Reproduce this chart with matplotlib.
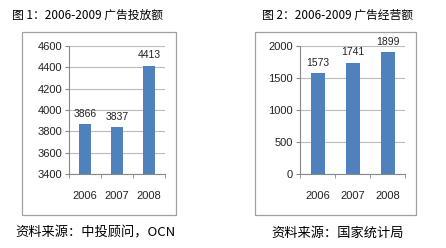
import numpy as np
import matplotlib.pyplot as plt
from matplotlib.patches import Rectangle

plt.rcParams['font.family'] = ['Liberation Sans', 'Noto Sans CJK SC', 'DejaVu Sans']

W, H = 446, 248

years = ['2006', '2007', '2008']
spend = [3866, 3837, 4413]      # 广告投放额
revenue = [1573, 1741, 1899]    # 广告经营额

title1 = '图 1：2006-2009 广告投放额'
title2 = '图 2：2006-2009 广告经营额'
src1 = '资料来源：中投顾问，OCN'
src2 = '资料来源：国家统计局'

bar_color = '#4F81BD'
cjk = ['Noto Sans CJK SC', 'DejaVu Sans']


def px_axes(fig, x0, x1, ytop, ybot):
    return fig.add_axes([x0 / W, (H - ybot) / H, (x1 - x0) / W, (ybot - ytop) / H])


def frame(fig, x0, x1, y0, y1):
    fig.patches.append(Rectangle((x0 / W, (H - y1) / H), (x1 - x0) / W, (y1 - y0) / H,
                                 transform=fig.transFigure, fill=False,
                                 edgecolor='#A0A0A0', linewidth=0.9))


def bar_chart(ax, vals, ylim, step, width):
    x = np.arange(len(vals))
    ax.bar(x, vals, width=width, color=bar_color, zorder=3)
    ax.set_xlim(-0.5, len(vals) - 0.5)
    ax.set_ylim(*ylim)
    ax.set_yticks(np.arange(ylim[0], ylim[1] + 1, step))
    ax.set_xticks(x)
    ax.set_xticklabels(years)
    ax.set_xticks(np.arange(-0.5, len(vals), 1), minor=True)
    ax.tick_params(axis='x', which='major', length=0, pad=12, labelsize=8, colors='#222222')
    ax.tick_params(axis='x', which='minor', length=3, color='#888888')
    ax.tick_params(axis='y', length=3, color='#888888', labelsize=8, colors='#222222', pad=2)
    ax.yaxis.grid(True, color='#BBBBBB', linewidth=0.8, zorder=0)
    for s in ['top', 'right']:
        ax.spines[s].set_visible(False)
    for s in ['left', 'bottom']:
        ax.spines[s].set_color('#888888')
        ax.spines[s].set_linewidth(0.8)
    for xi, v in zip(x, vals):
        ax.annotate(str(v), (xi, v), xytext=(0, 4), textcoords='offset points',
                    ha='center', va='bottom', fontsize=7.5, color='#222222')


fig = plt.figure(figsize=(W / 100, H / 100), dpi=100)

frame(fig, 22, 176, 32, 215)
frame(fig, 255, 416, 32, 215)

ax1 = px_axes(fig, 69, 165, 46, 174)
bar_chart(ax1, spend, (3400, 4600), 200, 0.375)

ax2 = px_axes(fig, 300, 405, 46, 174)
bar_chart(ax2, revenue, (0, 2000), 500, 0.4)

fig.text(12 / W, 1 - 15 / H, title1, fontsize=8.5, family=cjk, ha='left', va='center')
fig.text(338 / W, 1 - 15 / H, title2, fontsize=8.5, family=cjk, ha='center', va='center')
fig.text(15 / W, 1 - 233 / H, src1, fontsize=9.5, family=cjk, ha='left', va='center')
fig.text(338 / W, 1 - 233 / H, src2, fontsize=9.5, family=cjk, ha='center', va='center')

fig.savefig('out.png', dpi=100)
